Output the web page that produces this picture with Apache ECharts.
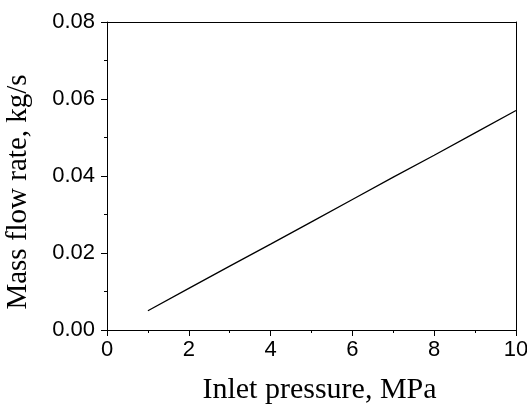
<!DOCTYPE html>
<html>
<head>
<meta charset="utf-8">
<script src="https://cdn.jsdelivr.net/npm/echarts@6/dist/echarts.min.js"></script>
<style>
html, body { margin: 0; padding: 0; background: #fff; }
#chart { width: 527px; height: 405px; }
</style>
</head>
<body>
<div id="chart"></div>
<script>
// inlet pressure (MPa) and mass flow rate (kg/s)
var pressure = [1, 2, 3, 4, 5, 6, 7, 8, 9, 10];
var massFlow = [0.0050, 0.0108, 0.0166, 0.0223, 0.0281, 0.0339, 0.0397, 0.0454, 0.0512, 0.0570];

var points = [];
for (var i = 0; i < pressure.length; i++) {
	points.push([pressure[i], massFlow[i]]);
}

var chart = echarts.init(document.getElementById("chart"));
var labelFont = { fontFamily: "Liberation Sans", fontSize: 22, color: "#000" };

var option = {
	animation: false,
	grid: { left: 107, right: 11, top: 22, bottom: 75, containLabel: false, outerBoundsMode: "none" },
	xAxis: [{
		type: "value",
		min: 0, max: 10, interval: 2,
		name: "Inlet pressure, MPa",
		nameLocation: "middle",
		nameGap: 45,
		nameTextStyle: { fontFamily: "Liberation Serif", fontSize: 30, color: "#000", padding: [0, 0, 0, 16] },
		axisLine: { onZero: false, lineStyle: { color: "#000", width: 1 } },
		axisTick: { inside: false, length: 6, lineStyle: { color: "#000" } },
		minorTick: { show: true, splitNumber: 2, length: 3, lineStyle: { color: "#000" } },
		axisLabel: Object.assign({ margin: 9 }, labelFont),
		splitLine: { show: false }
	}, {
		type: "value",
		position: "top",
		min: 0, max: 10,
		axisLine: { show: true, onZero: false, lineStyle: { color: "#000", width: 1 } },
		axisTick: { show: false },
		axisLabel: { show: false },
		splitLine: { show: false }
	}],
	yAxis: [{
		type: "value",
		min: 0, max: 0.08, interval: 0.02,
		name: "Mass flow rate, kg/s",
		nameLocation: "middle",
		nameGap: 74,
		nameTextStyle: { fontFamily: "Liberation Serif", fontSize: 29, color: "#000", padding: [0, 32, 0, 0] },
		axisLine: { show: true, onZero: false, lineStyle: { color: "#000", width: 1 } },
		axisTick: { show: true, inside: false, length: 6, lineStyle: { color: "#000" } },
		minorTick: { show: true, splitNumber: 2, length: 3, lineStyle: { color: "#000" } },
		axisLabel: Object.assign({
			margin: 12,
			formatter: function(v) { return v.toFixed(2); }
		}, labelFont),
		splitLine: { show: false }
	}, {
		type: "value",
		position: "right",
		min: 0, max: 0.08,
		axisLine: { show: true, onZero: false, lineStyle: { color: "#000", width: 1 } },
		axisTick: { show: false },
		axisLabel: { show: false },
		splitLine: { show: false }
	}],
	series: [{
		type: "line",
		data: points,
		showSymbol: false,
		lineStyle: { color: "#000", width: 1.3 }
	}]
};

chart.setOption(option);
</script>
</body>
</html>
